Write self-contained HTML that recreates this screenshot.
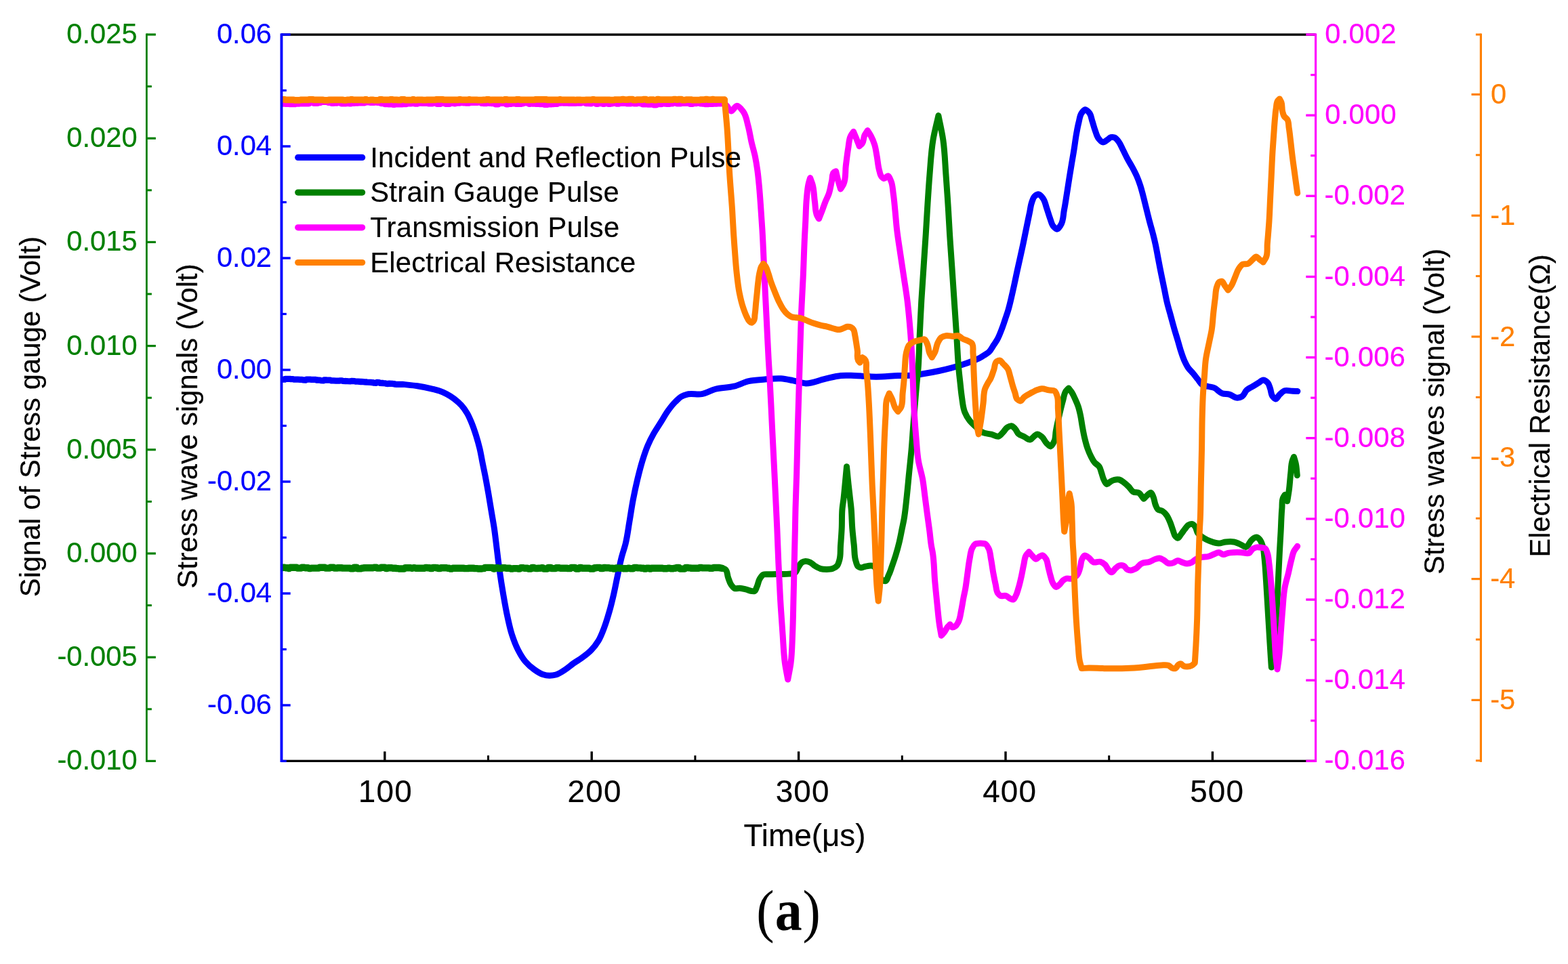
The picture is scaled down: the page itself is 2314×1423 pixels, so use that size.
<!DOCTYPE html>
<html lang="en">
<head>
<meta charset="utf-8">
<title>Stress wave signals and electrical resistance versus time</title>
<style>
html, body { margin: 0; padding: 0; background: #ffffff; }
body { width: 2314px; height: 1423px; overflow: hidden; }
svg { display: block; }
text { white-space: pre; stroke-width: 0.2px; stroke-linejoin: round; }
</style>
</head>
<body>
<svg width="2314" height="1423" viewBox="0 0 2314 1423" font-family="'Liberation Sans', Arial, Helvetica, sans-serif">
<rect x="0" y="0" width="2314" height="1423" fill="#fff"/>
<rect x="415.4" y="49.4" width="1526.2" height="3.4" fill="#000"/>
<rect x="415.4" y="1121.7" width="1526.2" height="3.3" fill="#000"/>
<rect x="566.1" y="1109.3" width="3.4" height="14" fill="#000"/>
<rect x="871.5" y="1109.3" width="3.4" height="14" fill="#000"/>
<rect x="1176.9" y="1109.3" width="3.4" height="14" fill="#000"/>
<rect x="1482.3" y="1109.3" width="3.4" height="14" fill="#000"/>
<rect x="1787.7" y="1109.3" width="3.4" height="14" fill="#000"/>
<rect x="719" y="1115.2" width="3" height="8" fill="#000"/>
<rect x="1024.4" y="1115.2" width="3" height="8" fill="#000"/>
<rect x="1329.8" y="1115.2" width="3" height="8" fill="#000"/>
<rect x="1635.2" y="1115.2" width="3" height="8" fill="#000"/>
<clipPath id="plotclip"><rect x="414" y="51" width="1527" height="1072"/></clipPath>
<g clip-path="url(#plotclip)">
<path d="M415 559.6 L416 560.1 L420 560.2 L421 559.3 L424.6 559.3 L425.6 559.4 L427.9 559.4 L428.9 559.5 L432.5 559.6 L433.5 560.1 L438.6 560.2 L439.6 560.2 L443.1 560.3 L444.1 560.4 L446 560.4 L447 560.9 L451.2 561 L452.2 560.1 L458.1 560.2 L459.1 560.3 L463.5 560.4 L464.5 560.4 L466 560.4 L467 561 L468.8 561 L469.8 561.1 L472.2 561.2 L473.2 561.7 L477.4 561.9 L478.4 560.9 L481.4 561 L482.4 561.1 L487.6 561.2 L488.6 561.8 L491.2 561.9 L492.2 561.9 L495.9 562.1 L496.9 562.1 L500.5 562.2 L501.5 561.8 L504.8 561.9 L505.8 562.4 L511.8 562.6 L512.8 562.7 L517.5 562.9 L518.5 562.4 L523.4 562.6 L524.4 563.1 L527.2 563.2 L528.2 563.2 L532.2 563.5 L533.2 563.5 L536.5 563.7 L537.5 563.8 L540.8 564 L541.8 564.1 L547.1 564.4 L548.1 564.5 L550.6 564.6 L551.6 565.2 L555.2 565.4 L556.2 564.5 L559.6 564.7 L560.6 565.3 L564.9 565.5 L565.9 565.6 L568.9 565.8 L569.9 566.3 L572.9 566.5 L573.9 566.1 L578.8 566.4 L579.8 566.5 L581.9 566.6 L582.9 567.2 L584.5 567.3 L594.5 567.4" fill="none" stroke="#0000ff" stroke-width="9.3" stroke-linejoin="round" stroke-linecap="round"/>
<path d="M594.5 567.4C601.67 568.2 608.88 568.7 616 569.8C623.28 570.92 630.55 572.31 637.7 574.1C641.32 575.01 644.98 575.87 648.5 577.1C652.19 578.38 655.84 579.89 659.3 581.7C663.07 583.67 666.7 586.04 670.1 588.6C673.95 591.5 677.68 594.72 680.9 598.3C684.16 601.92 687.03 606 689.5 610.2C692.1 614.61 694.03 619.45 696 624.2C698.49 630.2 700.54 636.4 702.5 642.6C704.52 649 706.34 655.48 707.9 662C709.62 669.17 710.75 676.47 712.2 683.7C713.65 690.9 715.21 698.09 716.6 705.3C718.12 713.18 719.53 721.09 720.9 729C722.4 737.65 723.76 746.33 725.2 755C726.63 763.63 728.23 772.24 729.5 780.9C730.77 789.58 731.7 798.3 732.8 807C734.27 818.7 735.56 830.42 737.2 842.1C738.83 853.66 740.62 865.2 742.6 876.7C744.59 888.26 746.54 899.85 749.1 911.3C751.04 919.98 752.83 928.76 755.6 937.2C758.01 944.55 760.67 951.93 764.2 958.8C767.29 964.82 770.64 970.96 775 976.1C778.77 980.54 783.26 984.59 788 988C792.04 990.9 796.31 993.96 801 995.5C804.08 996.51 807.45 997.22 810.7 997.3C813.92 997.38 817.31 996.88 820.4 996C825.06 994.68 829.26 991.63 833.4 989C837.93 986.12 841.9 982.4 846.3 979.3C850.54 976.31 855.13 973.78 859.3 970.7C863.82 967.36 868.41 963.93 872.3 959.9C876.39 955.67 880.05 950.82 883.1 945.8C886.75 939.8 889.16 932.99 891.7 926.4C894.69 918.64 897.01 910.6 899.3 902.6C901.75 894.05 903.81 885.37 905.8 876.7C907.77 868.11 909.37 859.43 911.2 850.8C913.19 841.42 914.9 831.97 917.3 822.7C919.1 815.75 921.6 808.97 923.3 802C925.85 791.53 927.08 780.74 928.9 770.1C930.75 759.31 932.24 748.45 934.3 737.7C936.24 727.56 938.38 717.44 940.8 707.4C943.07 697.98 945.4 688.54 948.3 679.3C950.58 672.02 952.9 664.7 955.9 657.7C958.43 651.79 961.36 646.01 964.5 640.4C967.8 634.5 971.71 628.94 975.3 623.2C978.91 617.44 982.09 611.37 986.1 605.9C989.42 601.36 992.9 596.84 996.9 592.9C999.62 590.22 1002.33 587.27 1005.6 585.4C1008.23 583.9 1011.27 582.89 1014.2 582.1C1021.07 580.25 1028.83 583.04 1035.8 581.7C1042.51 580.41 1048.65 576.33 1055.3 574.5C1064.39 572 1074.26 572.56 1083.4 570.2C1090.75 568.3 1097.62 564.38 1105 562.7C1112.7 560.95 1120.78 560.75 1128.7 560.1C1136.62 559.45 1144.62 558.25 1152.5 558.8C1158.29 559.2 1164.06 560.51 1169.8 561.6C1176.3 562.83 1182.74 565.66 1189.2 565.9C1198.58 566.25 1207.91 561.44 1217.3 559.4C1225.21 557.68 1233.07 555.23 1241.1 554.5C1247.51 553.92 1254.04 554.37 1260.5 554.5C1271.34 554.71 1282.17 556.2 1293 556.2C1303.8 556.2 1314.59 554.92 1325.4 554.5C1333.6 554.18 1341.86 554.75 1350 553.8C1353.28 553.42 1356.54 552.83 1359.8 552.3C1368.47 550.9 1377.12 549.35 1385.7 547.5C1391.49 546.25 1397.27 544.92 1403 543.4C1408.81 541.86 1414.59 540.18 1420.3 538.3C1424.84 536.81 1429.35 535.23 1433.8 533.5C1437.88 531.91 1442.06 530.47 1445.9 528.4C1448.34 527.08 1450.67 525.53 1453 524C1455.2 522.55 1457.6 521.26 1459.5 519.5C1462.48 516.74 1464.23 512.74 1466.5 509.3C1468.27 506.62 1470.13 503.99 1471.7 501.2C1474.7 495.88 1476.73 490.02 1478.9 484.3C1480.57 479.92 1481.99 475.44 1483.5 471C1484.85 467.01 1486.27 463.03 1487.5 459C1490.04 450.69 1491.83 442.16 1493.8 433.7C1495.09 428.15 1496.29 422.57 1497.5 417C1498.73 411.34 1499.87 405.66 1501.1 400C1502.69 392.66 1504.39 385.34 1506 378C1507.52 371.1 1509.05 364.21 1510.5 357.3C1511.98 350.24 1513.35 343.16 1514.8 336.1C1516.34 328.6 1517.9 321.09 1519.5 313.6C1520.61 308.4 1520.99 302.93 1522.9 298C1524.05 295.03 1524.87 291.37 1527.2 289.4C1528.61 288.21 1530.78 286.83 1532.4 286.8C1534.97 286.75 1537.47 290.54 1539.3 292.9C1542.23 296.67 1542.86 302.07 1544.5 306.7C1546.32 311.86 1547.64 317.2 1549.6 322.3C1551.17 326.4 1551.85 331.34 1554.8 334.4C1556.24 335.9 1558.39 338.23 1560 338.2C1561.91 338.16 1563.76 334.62 1565.2 332.6C1569.55 326.52 1568.89 317.71 1570.4 310.2C1572.13 301.59 1573.31 292.87 1574.7 284.2C1575.9 276.71 1577 269.19 1578.2 261.7C1579.31 254.8 1580.45 247.9 1581.6 241C1582.75 234.1 1583.99 227.21 1585.1 220.3C1586.3 212.81 1587.16 205.26 1588.5 197.8C1589.54 192.01 1590.51 186.18 1592 180.5C1593.22 175.84 1593.48 170.43 1596.3 166.7C1597.69 164.85 1599.71 161.94 1601.5 161.8C1603.46 161.64 1606.01 164.75 1607.6 166.7C1610.22 169.89 1610.54 174.74 1611.9 178.8C1613.43 183.37 1614.52 188.09 1616.2 192.6C1617.73 196.71 1618.68 201.39 1621.4 204.7C1623.04 206.7 1625.22 209.65 1627.4 209.9C1629.53 210.14 1632.12 207.76 1634.3 206.4C1636.12 205.27 1637.54 203.08 1639.5 202.6C1641.09 202.21 1643.15 202.46 1644.7 203C1647.24 203.89 1649.05 206.79 1650.8 209C1653.42 212.3 1654.84 216.51 1656.8 220.3C1659.16 224.87 1661.27 229.57 1663.7 234.1C1665.89 238.19 1668.39 242.12 1670.6 246.2C1673.05 250.74 1675.53 255.28 1677.6 260C1679.57 264.49 1681.27 269.13 1682.8 273.8C1684.48 278.92 1685.73 284.18 1687.1 289.4C1688.61 295.15 1689.96 300.93 1691.4 306.7C1693.12 313.6 1694.79 320.52 1696.6 327.4C1698.27 333.75 1700.19 340.04 1701.8 346.4C1703 351.15 1704.15 355.92 1705.2 360.7C1706.84 368.16 1708.05 375.7 1709.5 383.2C1710.95 390.7 1712.39 398.21 1713.9 405.7C1715.29 412.61 1716.77 419.5 1718.2 426.4C1719.64 433.33 1720.84 440.32 1722.5 447.2C1724.04 453.58 1725.97 459.87 1727.7 466.2C1729.43 472.53 1731.08 478.89 1732.9 485.2C1734.56 490.99 1736.38 496.73 1738.1 502.5C1739.82 508.26 1741.27 514.11 1743.2 519.8C1744.78 524.45 1746.31 529.17 1748.4 533.6C1749.94 536.86 1751.53 540.17 1753.6 543.1C1755.59 545.92 1758.26 548.25 1760.5 550.9C1762.87 553.71 1765.1 556.63 1767.4 559.5C1769.73 562.4 1771.36 566.38 1774.4 568.2C1776.82 569.65 1780.12 569.8 1783 570.5C1785.85 571.2 1788.9 571.38 1791.6 572.4C1796.1 574.1 1799.19 579.17 1803.7 580.7C1806.92 581.8 1810.75 581.23 1814.1 582.1C1818.31 583.19 1822.07 587.55 1826.2 587.3C1828.47 587.17 1831.14 586.3 1833.1 585.1C1836.28 583.16 1837.13 578.14 1840 575.6C1842.48 573.4 1845.8 572.14 1848.7 570.4C1851.57 568.67 1854.45 566.95 1857.3 565.2C1859.61 563.78 1861.9 560.9 1864.2 560.9C1866.5 560.9 1869.4 563.26 1871.1 565.2C1873.05 567.41 1873.55 570.89 1874.6 573.8C1875.93 577.5 1875.66 582.11 1878 585.1C1879.17 586.59 1880.99 588.79 1882.4 589C1884.52 589.31 1886.26 584.51 1888.4 582.5C1890.55 580.48 1892.72 577.94 1895.3 576.9C1898.81 575.49 1903.37 577.15 1907.4 577.3C1909.9 577.39 1912.4 577.5 1914.9 577.6" fill="none" stroke="#0000ff" stroke-width="9" stroke-linejoin="round" stroke-linecap="round"/>
<path d="M415 838.6 L416 837.8 L420.5 837.8 L421.5 838.2 L424.5 838.2 L425.5 839 L427.1 839 L428.1 837.8 L431.8 837.8 L432.8 837.8 L437.9 837.8 L438.9 838.6 L444.3 838.6 L445.3 837.8 L449.3 837.8 L450.3 838.2 L454.6 838.2 L455.6 839 L458.8 839 L459.8 838.6 L465.3 838.6 L466.3 838.6 L470.4 838.6 L471.4 837.8 L473.3 837.8 L474.3 837.8 L479.5 837.8 L480.5 838.6 L483.8 838.6 L484.8 838.6 L486.4 838.6 L487.4 837.8 L492.5 837.8 L493.5 838.6 L497.3 838.6 L498.3 838.2 L504.3 838.2 L505.3 838.6 L511.1 838.6 L512.1 838.6 L516.5 838.6 L517.5 839.4 L521.5 839.4 L522.5 837.8 L526.5 837.8 L527.5 839.4 L533 839.4 L534 838.6 L536.2 838.6 L537.2 838.2 L540.5 838.2 L541.5 838.2 L546 838.2 L547 838.2 L550.7 838.2 L551.7 837.8 L555.6 837.8 L556.6 838.6 L561.4 838.6 L562.4 837.8 L568.3 837.8 L569.3 839 L571.9 839 L572.9 838.2 L578.3 838.3 L579.3 838.7 L583.9 838.7 L584.9 839.1 L587.5 839.1 L588.5 839.5 L591.7 839.5 L592.7 839.5 L596.7 839.5 L597.7 838.3 L600 838.3 L601 838.3 L606.2 838.3 L607.2 838.7 L608.9 838.7 L609.9 838.3 L612.4 838.3 L613.4 838.7 L615.1 838.7 L616.1 838.7 L621.1 838.7 L622.1 838.7 L626.9 838.7 L627.9 837.9 L630.2 837.9 L631.2 838.3 L634 838.3 L635 839.1 L637.7 839.1 L638.7 837.9 L642.9 837.9 L643.9 838.3 L645.7 838.3 L646.7 839.1 L649.8 839.1 L650.8 838.3 L653.6 838.3 L654.6 838.3 L659.2 838.3 L660.2 838.7 L662.8 838.7 L663.8 839.5 L667.4 839.5 L668.4 838.7 L671.5 838.7 L672.5 838.7 L677.5 838.7 L678.5 838.7 L684.1 838.7 L685.1 839.1 L690.9 839.1 L691.9 838.7 L694.2 838.7 L695.2 838.7 L698.9 838.7 L699.9 839.1 L704.2 839.1 L705.2 839.5 L711.2 839.5 L712.2 839.1 L714.4 839.1 L715.4 837.9 L720.9 837.9 L721.9 837.9 L727.1 837.9 L728.1 839.5 L730.1 839.5 L731.1 838.3 L734.9 838.3 L735.9 839.1 L740.2 839.1 L741.2 838.3 L745.8 838.3 L746.8 838.7 L752.3 838.7 L753.3 839.5 L756.8 839.5 L757.8 839.1 L763.3 839.1 L764.3 839.5 L767.3 839.5 L768.3 838.3 L772.6 838.3 L773.6 838.7 L778.3 838.7 L779.3 839.5 L784.1 839.5 L785.1 837.9 L787.8 837.9 L788.8 838.7 L790.3 838.7 L791.3 839.1 L793.4 839.1 L794.4 838.7 L797.8 838.7 L798.8 838.3 L801.2 838.3 L802.2 839.5 L808.1 839.5 L809.1 837.9 L813.1 837.9 L814.1 839.1 L819.8 839.1 L820.8 838.3 L825.7 838.3 L826.7 838.7 L830.1 838.7 L831.1 838.7 L836.7 838.7 L837.7 839.1 L841.8 839.1 L842.8 837.9 L848.7 837.9 L849.7 839.5 L854.5 839.5 L855.5 837.9 L857.8 837.9 L858.8 838.7 L863.4 838.7 L864.4 838.7 L869.5 838.7 L870.5 839.5 L876.1 839.5 L877.1 838.3 L879.5 838.3 L880.5 837.9 L885.6 837.9 L886.6 839.1 L889.7 839.1 L890.7 837.9 L893.4 837.9 L894.4 838.3 L899 838.3 L900 838.7 L904.3 838.8 L905.3 839.6 L907.7 839.6 L908.7 838.4 L913.4 838.4 L914.4 838.8 L918.5 838.8 L919.5 839.2 L922.8 839.2 L923.8 839.2 L925.7 839.2 L926.7 838.8 L928.9 838.8 L929.9 839.2 L934.6 839.2 L935.6 838 L940.2 838 L941.2 838.4 L945.7 838.4 L946.7 838.8 L949.8 838.8 L950.8 839.6 L953.3 839.6 L954.3 838.8 L957.8 838.8 L958.8 839.6 L960.5 839.6 L961.5 838.8 L964.6 838.8 L965.6 838.8 L971 838.8 L972 838.8 L977.8 838.8 L978.8 839.2 L984.6 839.2 L985.6 838.8 L988.4 838.8 L989.4 839.2 L994 839.2 L995 838.8 L997.5 838.8 L998.5 838 L1002.2 838 L1003.2 839.6 L1006.2 839.6 L1007.2 839.6 L1010.8 839.6 L1011.8 838 L1015.6 838 L1016.6 838.4 L1019.2 838.4 L1020.2 838.8 L1025.2 838.8 L1026.2 838.8 L1031.5 838.8 L1032.5 838 L1035.8 838 L1036.8 838.4 L1041.7 838.4 L1042.7 838.4 L1046.6 838.4 L1047.6 838.8 L1052.1 838.8 L1053.1 838 L1057.1 838 L1058.1 838 L1061 838 L1065.9 838.8" fill="none" stroke="#008000" stroke-width="10.4" stroke-linejoin="round" stroke-linecap="round"/>
<path d="M1065.9 838.8C1067.37 839.37 1069.09 839.69 1070.3 840.5C1073.61 842.71 1073.06 848.61 1074.6 852.6C1075.95 856.1 1076.78 859.98 1078.9 863C1080.32 865.03 1081.98 867.62 1084.1 868.5C1086.29 869.41 1089.32 868.02 1091.9 868.2C1094.79 868.41 1097.67 869.2 1100.5 869.9C1103.4 870.62 1106.15 872.22 1109.1 872.5C1110.55 872.64 1112.32 873 1113.5 872.5C1115.37 871.71 1115.89 868.49 1116.9 866.4C1118.77 862.55 1119.02 857.86 1121.3 854.3C1122.7 852.12 1124.26 849.42 1126.4 848.3C1128.76 847.06 1132.2 847.94 1135.1 847.8C1139.13 847.61 1143.17 847.51 1147.2 847.4C1152.97 847.25 1158.78 847.75 1164.5 847.1C1167.38 846.77 1170.87 847.1 1173.1 845.7C1175.69 844.07 1176.4 839.79 1178.3 837C1179.92 834.62 1181.15 831.54 1183.5 830.1C1184.99 829.19 1186.95 828.53 1188.7 828.4C1190.97 828.23 1193.48 829.15 1195.6 830.1C1198.17 831.26 1200.07 833.78 1202.5 835.3C1205.2 836.99 1208.07 838.74 1211.1 839.6C1213.86 840.38 1216.9 840.5 1219.8 840.5C1222.67 840.5 1225.75 840.53 1228.4 839.6C1230.89 838.72 1233.6 837.24 1235.3 835.3C1237.25 833.09 1237.91 829.63 1238.8 826.7C1240.79 820.11 1239.98 812.84 1240.5 805.9C1241.14 797.27 1241.78 788.64 1242.2 780C1242.69 770.08 1242.11 760.08 1243.1 750.2C1243.57 745.45 1244.44 740.74 1245 736C1245.81 729.22 1246.35 722.4 1247 715.6C1247.86 706.67 1248.67 697.73 1249.5 688.8C1250.4 697.73 1251.24 706.67 1252.2 715.6C1252.93 722.4 1253.73 729.2 1254.5 736C1255.03 740.73 1255.65 745.46 1256.1 750.2C1257.04 760.1 1257.01 770.08 1257.8 780C1258.49 788.65 1259.46 797.27 1260.4 805.9C1261.21 813.41 1260.57 821.32 1263 828.4C1263.91 831.06 1264.29 834.53 1266.4 836.2C1267.36 836.96 1268.7 837.64 1269.9 837.9C1272.09 838.37 1274.48 836.59 1276.8 836.2C1280.76 835.53 1285.67 834.15 1288.9 835.7C1292.02 837.2 1293.87 841.74 1296 845C1298.28 848.49 1298.65 853.81 1302 856C1303.22 856.8 1304.99 857.79 1306.2 857.8C1308.88 857.82 1309.89 852.11 1311.4 849.1C1313.6 844.73 1314.95 839.93 1316.6 835.3C1318.43 830.17 1320.2 825.01 1321.8 819.8C1323.73 813.49 1325.46 807.11 1327 800.7C1328.65 793.85 1329.87 786.9 1331.3 780C1332.17 775.8 1333.12 771.62 1333.9 767.4C1336 756.01 1336.92 744.42 1338.2 732.9C1339.48 721.38 1340.45 709.83 1341.6 698.3C1342.75 686.77 1344.08 675.25 1345.1 663.7C1346.12 652.18 1346.8 640.63 1347.7 629.1C1348.6 617.6 1349.55 606.1 1350.5 594.6C1351.32 584.73 1352.06 574.86 1353 565C1353.56 559.13 1354.28 553.27 1354.8 547.4C1356.31 530.19 1356.37 512.87 1357.2 495.6C1358.03 478.3 1358.8 460.99 1359.8 443.7C1360.8 426.43 1362.06 409.17 1363.2 391.9C1364.23 376.27 1365.32 360.64 1366.3 345C1367.03 333.34 1367.66 321.66 1368.4 310C1369.49 292.76 1370.47 275.51 1371.9 258.3C1373.34 240.98 1374.1 223.51 1377 206.4C1379.04 194.37 1382.27 182.53 1384.9 170.6C1387.2 182.53 1390.04 194.39 1391.8 206.4C1394.31 223.55 1394.71 240.99 1396 258.3C1397.28 275.52 1398.44 292.76 1399.5 310C1400.22 321.66 1400.78 333.34 1401.5 345C1402.47 360.64 1403.64 376.27 1404.7 391.9C1405.87 409.17 1407.03 426.43 1408.2 443.7C1409.37 461 1410.55 478.3 1411.7 495.6C1412.85 512.87 1413.43 530.18 1415.1 547.4C1415.67 553.27 1416.35 559.14 1417 565C1417.77 571.97 1418.34 578.97 1419.4 585.9C1420.56 593.45 1420.89 601.44 1423.8 608.4C1425.57 612.63 1427.89 616.85 1430.7 620.5C1433.1 623.61 1436.09 626.32 1439 629C1442.79 632.5 1446.49 636.68 1451.1 638.7C1454.77 640.31 1459.21 640.2 1463.2 641.2C1466.7 642.07 1470.57 645.05 1473.6 644.2C1476.23 643.46 1478.31 640.04 1480.5 637.8C1482.64 635.61 1484.06 632.44 1486.6 630.9C1488.36 629.84 1490.74 628.53 1492.6 628.8C1494.48 629.07 1496.29 631.12 1497.8 632.6C1500 634.75 1500.74 638.39 1503 640.4C1505.32 642.46 1508.73 643.27 1511.6 644.7C1514.5 646.14 1517.65 649.65 1520.3 649C1522.12 648.55 1523.65 646.07 1525.4 644.7C1527.09 643.38 1528.8 641.13 1530.6 640.9C1532.8 640.62 1535.5 643.09 1537.5 644.7C1540.5 647.11 1541.7 651.48 1544.5 654.2C1546.31 655.95 1548.74 659 1550.5 658.9C1552.57 658.78 1554.42 654.22 1555.7 651.6C1557.95 647.01 1557.34 641.25 1558.3 636.1C1559.81 627.99 1561.62 619.93 1563.5 611.9C1565.13 604.94 1566.73 597.97 1568.7 591.1C1570.03 586.47 1570.25 581.14 1573 577.3C1574.12 575.74 1575.67 574.43 1577 573C1578.53 575 1580.23 576.9 1581.6 579C1583.71 582.23 1585.19 585.87 1586.8 589.4C1588.35 592.81 1589.89 596.26 1591.1 599.8C1592.63 604.28 1593.61 608.96 1594.6 613.6C1595.69 618.72 1596.27 623.95 1597.2 629.1C1598.25 634.88 1599.23 640.69 1600.6 646.4C1601.86 651.65 1603.17 656.93 1605 662C1606.49 666.12 1608.18 670.21 1610.2 674.1C1611.73 677.05 1613.19 680.18 1615.3 682.7C1617.25 685.02 1620.49 686.36 1622.2 688.8C1624.08 691.48 1624.58 695.12 1625.7 698.3C1626.92 701.75 1627.46 705.53 1629.2 708.7C1630.37 710.83 1631.78 714.42 1633.5 714.7C1635.22 714.98 1637.34 711.54 1639.5 710.4C1641.14 709.53 1642.91 708.72 1644.7 708.3C1646.91 707.78 1649.45 707.51 1651.6 708C1654.1 708.57 1656.33 710.55 1658.5 712.1C1661.01 713.89 1663.3 716.03 1665.5 718.2C1667.97 720.63 1669.5 724.45 1672.4 726C1674.84 727.31 1678.7 726.18 1681 727.7C1682.77 728.87 1683.91 731.13 1685.3 732.9C1686.18 734.02 1687.03 735.17 1687.9 736.3C1689.63 734.57 1691.24 732.68 1693.1 731.1C1694.73 729.72 1696.86 727.04 1698.3 727.3C1699.78 727.56 1700.83 730.95 1701.8 732.9C1703.65 736.62 1703.6 741.15 1705.2 745C1706.19 747.37 1706.9 750.31 1708.7 751.9C1710.42 753.41 1713.56 753.23 1715.6 754.5C1717.95 755.96 1719.91 758.28 1721.6 760.5C1723.92 763.55 1725.27 767.35 1726.8 770.9C1728.49 774.83 1729.56 779.01 1731.1 783C1732.21 785.89 1732.54 789.43 1734.6 791.6C1735.57 792.62 1737.01 794.04 1738.1 794.2C1740.06 794.49 1741.56 790.25 1743.2 788.2C1745 785.96 1746.6 783.54 1748.4 781.3C1750.07 779.22 1751.4 776.5 1753.6 775.2C1755.34 774.17 1757.94 773.02 1759.7 773.5C1761.39 773.96 1762.84 776.19 1764 777.8C1765.76 780.25 1765.74 783.91 1767.4 786.4C1769.48 789.52 1772.92 791.89 1776.1 794C1779.26 796.09 1782.84 797.69 1786.4 799C1790.28 800.42 1794.44 801.96 1798.5 802C1801.95 802.03 1805.4 800.36 1808.9 800C1812.89 799.59 1817.11 799.25 1821 800C1824.59 800.69 1828.02 802.46 1831.4 804C1833.74 805.07 1836.23 807.49 1838.3 807.5C1841.86 807.53 1843.6 800.26 1846.9 797.3C1848.29 796.05 1849.61 794.51 1851.3 793.8C1852.35 793.36 1853.65 792.88 1854.7 793C1856.34 793.19 1857.8 795.09 1859 796.4C1861.3 798.91 1862.3 802.63 1863.4 805.9C1865.24 811.37 1865.2 817.42 1865.9 823.2C1867.29 834.68 1867.71 846.26 1868.5 857.8C1869.49 872.19 1870.23 886.6 1871.1 901C1871.97 915.4 1872.81 929.8 1873.7 944.2C1874.54 957.8 1875.43 971.4 1876.3 985C1878.03 968.53 1880.06 952.09 1881.5 935.6C1882.51 924.08 1883.35 912.54 1884.1 901C1885.23 883.72 1885.84 866.4 1886.7 849.1C1887.27 837.6 1887.79 826.1 1888.4 814.6C1888.93 804.63 1889.55 794.67 1890.1 784.7C1890.73 773.2 1890.85 761.66 1891.9 750.2C1892.37 744.99 1891.41 739.25 1893.6 734.6C1894.3 733.11 1895.33 731.73 1896.2 730.3L1899.7 739.8C1900.53 734.6 1901.48 729.42 1902.2 724.2C1903.38 715.61 1903.76 706.91 1904.8 698.3C1905.57 691.96 1905.24 685.28 1907.4 679.3C1908 677.64 1908.8 676.03 1909.5 674.4C1910.43 677.77 1911.57 681.09 1912.3 684.5C1913.51 690.13 1913.63 695.97 1914.3 701.7" fill="none" stroke="#008000" stroke-width="9" stroke-linejoin="round" stroke-linecap="round"/>
<path d="M415 151.5 L416 152.6 L420.6 152.6 L421.6 152.9 L426 152.9 L427 153.1 L432.4 153.1 L433.4 153.1 L435.5 153.1 L436.5 152.6 L441.4 152.6 L442.4 152.3 L445.8 152.3 L446.8 152.5 L452.8 152.5 L453.8 152.5 L455.7 152.5 L456.7 150.7 L461.9 150.8 L462.9 151.9 L468.6 151.9 L469.6 151.1 L472.8 151.1 L473.8 150 L477.4 150 L478.4 150 L483 150 L484 150.8 L488.3 150.8 L489.3 151.9 L492.4 151.9 L493.4 151.6 L498 151.6 L499 150.8 L502.5 150.8 L503.5 152.4 L507.4 152.4 L508.4 152.5 L510.8 152.5 L511.8 151 L514.4 151 L515.4 152.5 L518.1 152.5 L519.1 151.9 L522.4 151.9 L523.4 151.7 L527.5 151.7 L528.5 151.5 L532.5 151.5 L533.5 151.4 L538.2 151.4 L539.2 150.3 L541 150.3 L542 150.3 L545.3 150.3 L546.3 150.9 L552 150.9 L553 150.6 L555.5 150.6 L556.5 150.8 L561.6 150.8 L562.6 152.2 L567 152.2 L568 153.1 L572.8 153.1 L573.8 153.5 L579.3 153.5 L580.3 153.8 L582.7 153.8 L583.7 153.3 L587.5 153.3 L588.5 153.3 L594.1 153.3 L595.1 153.1 L599.9 153.1 L600.9 152.5 L606.2 152.5 L607.2 152.1 L611.3 152.1 L612.3 152.7 L615.5 152.7 L616.5 152 L618.8 152 L619.8 151.5 L622 151.5 L623 151.9 L628.6 151.9 L629.6 151.5 L631.4 151.5 L632.4 152.4 L638.3 152.4 L639.3 151.7 L643.7 151.7 L644.7 152.8 L646.7 152.8 L647.7 152.9 L649.8 152.9 L650.8 152 L656.4 152 L657.4 153 L663.1 153 L664.1 151.9 L669.4 151.9 L670.4 152.5 L671.9 152.5 L672.9 150.9 L675.1 150.9 L676.1 151.7 L678.6 151.7 L679.6 151.1 L682.5 151.1 L683.5 151.3 L686.7 151.3 L687.7 151.6 L692.5 151.6 L693.5 151 L696.9 151 L697.9 151 L700.6 151 L701.6 151 L704.7 151 L705.7 150.2 L709.8 150.2 L710.8 152 L713.2 152 L714.2 152.2 L717.7 152.2 L718.7 151.7 L721.9 151.7 L722.9 152 L724.8 152 L725.8 152.1 L730 152.1 L731 153.3 L735.4 153.3 L736.4 152 L738.8 152 L739.8 152 L745.7 152 L746.7 153.4 L749.7 153.4 L750.7 152.8 L754.6 152.8 L755.6 152.2 L757.8 152.2 L758.8 152.5 L760.8 152.5 L761.8 152.9 L764.2 152.9 L765.2 152.8 L769.5 152.8 L770.5 152.3 L772.1 152.3 L773.1 151.3 L775.1 151.3 L776.1 151.3 L779.5 151.3 L780.5 152.9 L782.2 152.9 L783.2 152.1 L785.3 152.1 L786.3 152.6 L789.3 152.6 L790.3 152.8 L795.8 152.8 L796.8 153.1 L802.4 153.1 L803.4 153.8 L805.3 153.8 L806.3 153.8 L808.2 153.8 L809.2 153.3 L814.3 153.3 L815.3 153.1 L817 153.1 L818 153 L822.5 153 L823.5 151.7 L827.3 151.7 L828.3 151.3 L830.7 151.3 L831.7 151.7 L836 151.7 L837 151.7 L839 151.7 L840 152 L845.7 152 L846.7 151.8 L850.6 151.8 L851.6 151.7 L853.8 151.7 L854.8 151.7 L857.5 151.7 L858.5 150.9 L860.2 150.9 L861.2 151 L863.5 151 L864.5 152.1 L866.5 152.1 L867.5 152.2 L872.9 152.3 L873.9 151.1 L879 151.1 L880 152.9 L882.2 152.9 L883.2 152.1 L888.9 152.1 L889.9 153 L891.8 153 L892.8 151.5 L896.2 151.5 L897.2 152.9 L900.8 152.9 L901.8 152.3 L904 152.3 L905 151.8 L908.5 151.8 L909.5 152.6 L913.4 152.6 L914.4 152 L917.1 152 L918.1 151.9 L923.8 151.9 L924.8 152.5 L930.6 152.5 L931.6 151.3 L935 151.3 L936 152.5 L939.3 152.5 L940.3 151.8 L943.9 151.8 L944.9 152.1 L947.3 152.1 L948.3 153.4 L953 153.4 L954 153.2 L955.6 153.2 L956.6 153.7 L960.3 153.7 L961.3 153.4 L963.4 153.4 L964.4 154.3 L968.5 154.3 L969.5 152.6 L971.4 152.6 L972.4 153.1 L976.4 153.1 L977.4 152.2 L979.9 152.2 L980.9 152.6 L982.5 152.6 L983.5 152.8 L988.5 152.8 L989.5 152.4 L992.4 152.4 L993.4 151.2 L997.8 151.2 L998.8 152.5 L1004.5 152.5 L1005.5 151.6 L1008 151.6 L1009 152 L1013.2 152 L1014.2 151.7 L1017.1 151.8 L1018.1 152.8 L1022.2 152.8 L1023.2 152.1 L1027.6 152.1 L1028.6 151.6 L1032.5 151.6 L1033.5 152.3 L1036.1 152.3 L1037.1 152.7 L1039 152.7 L1040 153.1 L1045.7 153.1 L1046.7 152.9 L1052 152.9 L1053 152.6 L1057.7 152.6 L1058.7 152.3 L1062.9 152.3 L1067 152.2" fill="none" stroke="#ff00ff" stroke-width="10.2" stroke-linejoin="round" stroke-linecap="round"/>
<path d="M1067 152.2C1068.67 153.3 1070.48 154.24 1072 155.5C1074.78 157.8 1076.4 163.73 1078.9 164C1081.54 164.28 1084.65 156.43 1087.5 156.3C1090.68 156.16 1094.5 161.67 1097 165C1101.24 170.65 1102.06 178.69 1104 185.7C1106.21 193.66 1107.22 201.94 1109.1 210C1110.7 216.9 1112.85 223.67 1114.3 230.6C1115.74 237.48 1116.83 244.44 1117.8 251.4C1118.92 259.43 1119.64 267.52 1120.4 275.6C1121.48 287.05 1122.19 298.53 1123 310C1123.71 320 1124.39 330 1125 340C1126.39 363.01 1127.1 386.07 1128.2 409.1C1129.3 432.17 1130.45 455.23 1131.6 478.3C1132.46 495.6 1133.22 512.91 1134.2 530.2C1134.76 540.14 1135.43 550.06 1136 560C1137.31 583.02 1138.25 606.07 1139.4 629.1C1140.55 652.17 1141.77 675.23 1142.9 698.3C1143.75 715.6 1144.58 732.9 1145.4 750.2C1145.87 760.13 1146.36 770.07 1146.8 780C1147.57 797.3 1148.12 814.6 1148.9 831.9C1149.68 849.17 1150.49 866.44 1151.5 883.7C1152.52 901.01 1153.73 918.31 1155 935.6C1156.06 950.01 1156.38 964.51 1158.4 978.8C1159.55 986.9 1161.27 994.93 1162.7 1003C1164.13 994.93 1165.91 986.91 1167 978.8C1168.92 964.53 1168.95 950.01 1169.6 935.6C1170.38 918.31 1170.57 901 1171 883.7C1171.43 866.43 1171.8 849.17 1172.2 831.9C1172.6 814.6 1173.03 797.3 1173.4 780C1173.61 770.07 1173.75 760.13 1174 750.2C1174.43 732.9 1175.19 715.6 1175.7 698.3C1176.38 675.2 1176.77 652.1 1177.4 629C1178.03 606 1178.81 583 1179.5 560C1179.97 544.3 1180.41 528.6 1180.9 512.9C1181.44 495.6 1181.88 478.29 1182.6 461C1183.32 443.66 1184.42 426.34 1185.2 409C1186.08 389.34 1186.53 369.66 1187.5 350C1187.87 342.47 1188.31 334.93 1188.7 327.4C1189.29 315.9 1189.3 304.35 1190.4 292.9C1191.07 285.92 1191.45 278.83 1193 272C1193.72 268.84 1194.73 265.73 1195.6 262.6C1196.73 265.73 1198.06 268.82 1199 272C1201.48 280.35 1201.18 289.36 1202.5 298C1203.56 304.95 1202.86 312.59 1206 318.8C1206.73 320.24 1207.67 321.6 1208.5 323C1209.97 319.3 1211.48 315.62 1212.9 311.9C1214.67 307.29 1216.16 302.58 1218 298C1219.62 293.96 1221.77 290.1 1223.2 286C1225.34 279.89 1226.03 273.31 1227.6 267C1228.68 262.65 1227.45 256.31 1231 254C1231.76 253.51 1232.73 253.2 1233.6 252.8C1234.73 257.53 1235.74 262.3 1237 267C1238.08 271.02 1239.33 275 1240.5 279C1241.93 276.67 1243.62 274.42 1244.8 272C1248.8 263.83 1247.1 253.66 1248.3 244.5C1249.44 235.83 1250.32 227.12 1251.8 218.5C1252.79 212.71 1252.72 206.43 1255.2 201.2C1256.35 198.79 1258.07 196.6 1259.5 194.3C1260.97 197.77 1262.49 201.21 1263.9 204.7C1265.4 208.41 1266.77 212.17 1268.2 215.9C1269.63 214.47 1271.35 213.2 1272.5 211.6C1274.88 208.28 1274.19 203.25 1276 199.5C1277.17 197.08 1278.87 194.9 1280.3 192.6C1282.03 195.47 1283.95 198.24 1285.5 201.2C1287.52 205.07 1289.25 209.16 1290.6 213.3C1292.41 218.87 1293.02 224.82 1294.1 230.6C1295.39 237.51 1295.62 244.68 1297.6 251.4C1298.55 254.62 1298.77 258.54 1301 260.9C1301.96 261.92 1303.31 263.26 1304.5 263.5C1306.44 263.89 1308.86 259.46 1310.5 259.7C1312.45 259.99 1313.65 264.46 1314.8 267C1317.43 272.79 1317.34 279.64 1318.3 286C1319.5 293.95 1320.09 301.99 1320.9 310C1321.84 319.33 1322.44 328.69 1323.5 338C1324.9 350.24 1326.91 362.41 1328.7 374.6C1330.39 386.11 1332.19 397.6 1333.9 409.1C1335.62 420.63 1337.56 432.13 1339 443.7C1340.43 455.2 1341.48 466.75 1342.5 478.3C1343.52 489.82 1344.4 501.36 1345.1 512.9C1345.85 525.26 1346.25 537.63 1346.8 550C1347.72 570.63 1348.09 591.29 1349.4 611.9C1350.13 623.41 1350.99 634.91 1352 646.4C1353.02 657.95 1353.51 669.6 1355.5 681C1357.02 689.71 1359.91 698.19 1361.5 706.9C1363.07 715.49 1363.85 724.23 1365 732.9C1366.15 741.53 1367.25 750.17 1368.4 758.8C1369.55 767.44 1370.79 776.06 1371.9 784.7C1372.81 791.79 1373.26 798.96 1374.5 806C1375.01 808.88 1375.69 811.73 1376.2 814.6C1378.73 828.81 1378.4 843.41 1379.7 857.8C1380.75 869.34 1381.88 880.88 1383.1 892.4C1384.2 902.77 1384.99 913.2 1386.6 923.5C1387.37 928.41 1388.33 933.3 1389.2 938.2C1390.93 936.17 1392.83 934.25 1394.4 932.1C1396 929.92 1396.98 927.28 1398.7 925.2C1399.73 923.95 1400.97 922.87 1402.1 921.7C1403.27 923.17 1404.13 925.83 1405.6 926.1C1406.82 926.32 1408.67 925.16 1409.9 924.3C1411.85 922.94 1413.01 920.41 1414.2 918.3C1417.08 913.19 1417.33 906.81 1418.6 901C1419.97 894.72 1420.76 888.31 1422 882C1422.79 877.99 1423.76 874.02 1424.5 870C1425.78 863.08 1426.5 856.07 1427.5 849.1C1428.66 841.03 1429.39 832.88 1431 824.9C1432.05 819.7 1432.22 814 1434.7 809.4C1435.86 807.24 1437.07 804.53 1439 803.3C1441.04 802 1444.2 802.1 1446.8 802.1C1449.4 802.1 1452.56 802 1454.6 803.3C1456.53 804.53 1457.75 807.24 1458.9 809.4C1461.35 814 1461.37 819.71 1462.4 824.9C1463.77 831.79 1464.53 838.79 1465.8 845.7C1466.87 851.48 1467.94 857.28 1469.3 863C1470.33 867.33 1470.1 872.44 1472.7 875.9C1473.66 877.18 1474.86 878.66 1476.2 879.4C1478.53 880.69 1482.21 878.52 1484.8 879.4C1487.04 880.17 1488.66 882.68 1490.9 883.7C1492.26 884.32 1494 885.36 1495.2 885.1C1496.77 884.76 1497.69 881.98 1498.7 880.3C1500.88 876.66 1501.73 872.28 1503 868.2C1504.76 862.53 1505.99 856.7 1507.3 850.9C1508.59 845.16 1509.5 839.34 1510.8 833.6C1511.85 828.98 1511.79 823.76 1514.2 819.8C1515.35 817.92 1517.07 816.33 1518.5 814.6C1520.23 816.6 1521.84 818.72 1523.7 820.6C1525.34 822.26 1527.09 825.27 1528.9 825.3C1530.57 825.33 1532.21 822.49 1534.1 821.5C1535.45 820.79 1537.1 819.73 1538.4 819.8C1540.45 819.91 1542.26 822.97 1543.6 824.9C1545.91 828.24 1545.92 832.95 1547 837C1548.23 841.62 1549.12 846.33 1550.5 850.9C1551.55 854.37 1552.13 858.16 1554 861.2C1555.16 863.09 1556.63 866.21 1558.3 866.4C1559.84 866.58 1561.94 864.33 1563.5 863C1565.52 861.29 1566.63 858.52 1568.7 856.9C1570.22 855.71 1571.98 854.49 1573.8 854C1575.97 853.42 1578.6 854.74 1580.8 854.3C1583.95 853.67 1587.22 851.4 1589.4 849.1C1592.6 845.72 1593.36 840.04 1594.6 835.3C1595.34 832.48 1595.19 829.35 1596.3 826.7C1597.3 824.32 1598.68 820.49 1600.6 820.1C1602.27 819.76 1604.83 821.94 1606.7 823.2C1609.31 824.96 1610.88 828.73 1613.6 829.8C1616.57 830.97 1620.83 828.34 1624 829.3C1626.48 830.05 1628.97 831.79 1630.9 833.6C1633.13 835.69 1633.91 839.22 1636.1 841.4C1637.38 842.68 1639.02 844.62 1640.4 844.8C1642.53 845.08 1644.24 840.61 1646.4 838.8C1648.04 837.42 1649.67 835.61 1651.6 835C1653.67 834.35 1656.54 834.45 1658.5 835.3C1660.64 836.23 1661.53 839.74 1663.7 840.8C1665.22 841.55 1667.19 841.92 1668.9 841.9C1671.24 841.87 1673.69 840.69 1675.8 839.6C1679.18 837.86 1681.17 833.62 1684.5 831.9C1688.05 830.07 1692.73 830.66 1696.6 829.3C1699.56 828.26 1702.19 826.2 1705.2 825.3C1707.17 824.71 1709.33 823.9 1711.3 824.1C1713.37 824.31 1715.39 825.67 1717.3 826.7C1719.75 828.03 1721.63 830.89 1724.2 831.5C1726.32 832 1728.91 831.57 1731.1 831C1733.58 830.35 1735.71 827.59 1738.1 827.5C1740.35 827.41 1742.66 829.36 1745 830.1C1747.26 830.82 1749.6 831.9 1751.9 831.9C1754.2 831.9 1756.68 831.08 1758.8 830.1C1761.37 828.92 1763.17 826.18 1765.7 824.9C1768.35 823.56 1771.45 822.97 1774.4 822.4C1777.22 821.86 1780.23 822.17 1783 821.5C1786.01 820.77 1788.79 819.13 1791.7 818C1793.99 817.11 1796.33 815.33 1798.6 815.4C1800.9 815.47 1803.08 818.36 1805.4 818.5C1807.68 818.63 1810.02 816.81 1812.4 816.3C1815.2 815.69 1818.13 815.56 1821 815.4C1824.46 815.2 1827.94 815.28 1831.4 815.4C1835.44 815.54 1840.3 818.03 1843.5 816.3C1845.59 815.17 1846.57 811.77 1848.7 810.3C1850.2 809.27 1852.04 808.43 1853.8 808C1856.55 807.34 1859.64 808.05 1862.5 808.5C1863.94 808.73 1865.65 808.74 1866.8 809.4C1868.83 810.57 1869.38 813.92 1870.3 816.3C1872.19 821.17 1872.16 826.68 1872.9 831.9C1874.11 840.49 1874.74 849.16 1875.5 857.8C1876.52 869.32 1877.23 880.86 1878 892.4C1878.96 906.79 1879.68 921.2 1880.6 935.6C1881.33 947.1 1881.75 958.63 1882.9 970.1C1883.5 976.08 1884.3 982.03 1885 988C1885.83 982.03 1886.8 976.08 1887.5 970.1C1888.85 958.65 1889.23 947.1 1890.1 935.6C1890.97 924.07 1891.68 912.52 1892.7 901C1893.72 889.45 1894.01 877.75 1896.2 866.4C1897.55 859.43 1899.75 852.62 1901.4 845.7C1902.9 839.38 1903.99 832.96 1905.7 826.7C1906.98 822.03 1907.66 816.98 1910 812.8C1911.29 810.5 1913.13 808.47 1914.7 806.3" fill="none" stroke="#ff00ff" stroke-width="9" stroke-linejoin="round" stroke-linecap="round"/>
<path d="M415 147.4 L416 146.9 L420.7 146.9 L421.7 147.4 L427.4 147.4 L428.4 147.4 L433.2 147.4 L434.2 147.8 L439 147.8 L440 147.8 L442.9 147.8 L443.9 147.4 L447.1 147.4 L448.1 147.4 L450.8 147.4 L451.8 147.4 L454.9 147.4 L455.9 146.9 L459.1 146.9 L460.1 146.9 L462.2 146.9 L463.2 147.4 L467.7 147.4 L468.7 147.4 L471 147.4 L472 147.4 L474 147.4 L475 147.4 L476.6 147.4 L477.6 147.8 L480.1 147.8 L481.1 147.8 L484.4 147.8 L485.4 147.4 L490.9 147.4 L491.9 147.4 L497.3 147.4 L498.3 147.4 L502.5 147.4 L503.5 147.4 L505.8 147.4 L506.8 147.8 L511.6 147.8 L512.6 147.4 L516.4 147.4 L517.4 146.9 L520.2 146.9 L521.2 147.4 L523.6 147.4 L524.6 147.4 L528.4 147.4 L529.4 147.4 L531.4 147.4 L532.4 147.4 L535.2 147.4 L536.2 147.8 L537.8 147.8 L538.8 146.9 L540.8 146.9 L541.8 147.8 L546 147.8 L547 147.4 L550.6 147.4 L551.6 147.8 L555.5 147.8 L556.5 147.8 L559.4 147.8 L560.4 146.9 L563.9 146.9 L564.9 147.4 L570.1 147.4 L571.1 147.4 L574.8 147.4 L575.8 146.9 L579.3 146.8 L580.3 147.3 L586 147.3 L587 147.7 L591.1 147.7 L592.1 146.8 L596.7 146.8 L597.7 147.7 L601.2 147.7 L602.2 147.7 L608 147.7 L609 146.8 L610.6 146.8 L611.6 147.7 L614.7 147.7 L615.7 147.3 L618.4 147.3 L619.4 147.3 L623.3 147.3 L624.3 147.7 L628.6 147.7 L629.6 147.3 L634.7 147.3 L635.7 147.3 L638.9 147.3 L639.9 147.3 L642.3 147.3 L643.3 146.8 L649.2 146.8 L650.2 146.8 L654 146.8 L655 147.3 L660.7 147.3 L661.7 147.3 L667.7 147.3 L668.7 147.3 L670.3 147.3 L671.3 147.3 L676.3 147.3 L677.3 146.8 L679.9 146.8 L680.9 147.3 L683.5 147.3 L684.5 147.3 L687 147.3 L688 147.3 L690.8 147.3 L691.8 146.8 L693.4 146.8 L694.4 147.3 L699.3 147.3 L700.3 147.3 L704.1 147.3 L705.1 147.7 L708.2 147.7 L709.2 147.7 L711.8 147.7 L712.8 147.3 L716.8 147.3 L717.8 146.8 L721.5 146.8 L722.5 147.7 L724.1 147.7 L725.1 147.3 L728.7 147.3 L729.7 147.3 L731.6 147.3 L732.6 147.3 L734.7 147.3 L735.7 147.3 L740.3 147.3 L741.3 147.7 L743.8 147.7 L744.8 146.8 L748.3 146.8 L749.3 147.3 L754.8 147.3 L755.8 147.3 L760.9 147.3 L761.9 146.8 L766.5 146.8 L767.5 147.3 L770.9 147.3 L771.9 147.3 L775.4 147.3 L776.4 147.3 L778.6 147.3 L779.6 147.3 L781.8 147.3 L782.8 147.3 L788.7 147.3 L789.7 146.8 L795.6 146.8 L796.6 146.8 L801.1 146.8 L802.1 146.8 L806.8 146.8 L807.8 147.3 L811.1 147.3 L812.1 147.3 L817.9 147.3 L818.9 147.3 L824.6 147.3 L825.6 146.8 L827.4 146.8 L828.4 147.3 L833.6 147.3 L834.6 147.3 L838 147.3 L839 147.3 L844.4 147.3 L845.4 147.3 L847.3 147.3 L848.3 147.7 L850 147.7 L851 147.3 L856.4 147.3 L857.4 147.7 L859 147.7 L860 147.7 L863.6 147.7 L864.6 147.3 L869.3 147.3 L870.3 147.3 L873.1 147.3 L874.1 146.8 L876.8 146.8 L877.8 147.3 L882.2 147.3 L883.2 147.3 L887.1 147.3 L888.1 147.3 L892.9 147.3 L893.9 147.3 L899.6 147.3 L900.6 147.7 L905.9 147.6 L906.9 147.2 L910.1 147.2 L911.1 147.2 L914.2 147.2 L915.2 147.2 L916.8 147.2 L917.8 146.7 L920.6 146.7 L921.6 147.2 L926.7 147.2 L927.7 146.7 L933.6 146.7 L934.6 147.6 L938.7 147.6 L939.7 147.2 L941.3 147.2 L942.3 147.2 L948.3 147.2 L949.3 146.7 L953.4 146.7 L954.4 147.6 L957.8 147.6 L958.8 147.2 L964.7 147.2 L965.7 147.6 L968.9 147.6 L969.9 146.7 L972.5 146.7 L973.5 147.2 L979.4 147.2 L980.4 147.2 L985.6 147.2 L986.6 147.2 L989.2 147.2 L990.2 147.2 L992.9 147.2 L993.9 146.7 L997.4 146.7 L998.4 147.2 L1000.1 147.2 L1001.1 146.7 L1005.7 146.7 L1006.7 147.6 L1011.1 147.6 L1012.1 147.2 L1015.6 147.2 L1016.6 147.2 L1021 147.2 L1022 147.6 L1026.7 147.6 L1027.7 147.6 L1032.3 147.6 L1033.3 147.2 L1035.3 147.2 L1036.3 147.2 L1039.9 147.2 L1040.9 146.7 L1043.9 146.7 L1044.9 147.2 L1050.1 147.2 L1051.1 146.7 L1052.9 146.7 L1053.9 147.2 L1058.2 147.2 L1059.2 147.2 L1064.8 147.2 L1069.2 147.2" fill="none" stroke="#ff8000" stroke-width="9.8" stroke-linejoin="round" stroke-linecap="round"/>
<path d="M1069.2 147.2C1070.47 161.13 1071.92 175.05 1073 189C1074.78 212.06 1075.29 235.22 1076.8 258.3C1077.93 275.54 1079.5 292.76 1080.6 310C1081.34 321.66 1081.83 333.34 1082.6 345C1083.15 353.34 1083.76 361.67 1084.4 370C1085.2 380.41 1085.87 390.83 1087 401.2C1088.14 411.63 1089.12 422.13 1091.2 432.4C1092.62 439.39 1094.17 446.42 1096.4 453.2C1097.91 457.77 1099.44 462.4 1101.6 466.7C1102.86 469.2 1103.81 472.09 1105.8 474C1106.71 474.88 1107.87 476.3 1108.9 476.3C1109.93 476.3 1111.17 474.9 1112 474C1114.27 471.53 1113.55 467.09 1114.1 463.6C1114.92 458.45 1115.08 453.2 1115.6 448C1116.12 442.8 1116.67 437.6 1117.2 432.4C1117.73 427.2 1118.14 421.98 1118.8 416.8C1119.37 412.29 1119.81 407.73 1120.8 403.3C1121.5 400.13 1121.95 396.77 1123.4 393.9C1124.24 392.24 1125.47 390.77 1126.5 389.2C1127.73 390.77 1129.16 392.22 1130.2 393.9C1131.95 396.72 1132.68 400.14 1133.8 403.3C1135.37 407.74 1136.45 412.35 1138 416.8C1139.58 421.35 1141.39 425.83 1143.2 430.3C1145.18 435.2 1147.06 440.16 1149.4 444.9C1151.32 448.79 1153.19 452.78 1155.7 456.3C1157.55 458.89 1159.5 461.55 1161.9 463.6C1163.76 465.19 1165.83 466.84 1168.1 467.7C1170.05 468.44 1172.29 468.53 1174.4 468.8C1176.45 469.06 1178.58 468.91 1180.6 469.3C1183.86 469.93 1186.88 471.67 1190 472.9C1193.48 474.27 1196.87 475.87 1200.4 477.1C1203.81 478.29 1207.29 479.33 1210.8 480.2C1214.23 481.05 1217.77 481.45 1221.2 482.3C1224.71 483.17 1228.07 484.66 1231.6 485.4C1233.97 485.9 1236.45 486.73 1238.8 486.5C1240.94 486.29 1243.03 485.17 1245.1 484.4C1246.85 483.75 1248.5 482.54 1250.3 482.3C1251.98 482.07 1253.98 482.15 1255.5 482.8C1257.11 483.49 1258.59 485.05 1259.6 486.5C1261.16 488.75 1261.09 492.01 1261.7 494.8C1262.6 498.92 1263.14 503.13 1263.8 507.3C1264.36 510.86 1264.99 514.42 1265.4 518C1265.93 522.61 1264.16 527.99 1266.4 531.9C1267.09 533.1 1268.13 534.17 1269 535.3L1272.5 527.6C1273.67 528.4 1275.02 529.08 1276 530C1280.05 533.8 1277.78 541.59 1278.5 547.4C1279.21 553.15 1279.79 558.93 1280.3 564.7C1281.05 573.12 1281.49 581.56 1282 590C1283.14 608.78 1283.81 627.6 1284.6 646.4C1285.57 669.46 1286.17 692.54 1287.2 715.6C1287.97 732.87 1288.99 750.13 1289.8 767.4C1290.4 780.27 1291 793.13 1291.5 806C1291.83 814.63 1292.05 823.27 1292.4 831.9C1292.87 843.4 1293.17 854.93 1294.1 866.4C1294.67 873.34 1295.5 880.27 1296.2 887.2C1296.93 880.27 1297.84 873.35 1298.4 866.4C1299.33 854.93 1299.4 843.4 1299.8 831.9C1300.1 823.27 1300.35 814.63 1300.6 806C1301.13 787.4 1301.38 768.8 1301.9 750.2C1302.39 732.9 1303.03 715.6 1303.6 698.3C1304.17 681 1304.53 663.69 1305.3 646.4C1305.81 634.9 1306.34 623.39 1307.1 611.9C1307.6 604.4 1306.65 596.53 1308.8 589.4C1309.69 586.44 1311.13 583.6 1312.3 580.7C1313.73 583.6 1315.32 586.44 1316.6 589.4C1318.3 593.32 1318.79 597.82 1320.9 601.5C1322.11 603.62 1323.77 605.5 1325.2 607.5C1326.63 605.5 1328.36 603.62 1329.5 601.5C1332.74 595.49 1331.31 587.64 1332.1 580.7C1332.88 573.81 1333.63 566.91 1334.2 560C1334.75 553.34 1334.96 546.66 1335.5 540C1336 533.83 1335.83 527.47 1337.3 521.5C1338.32 517.37 1338.94 512.47 1341.6 509.4C1343.54 507.16 1346.6 505.48 1349.4 504.2C1352.6 502.74 1356.3 502.32 1359.8 501.6C1361.23 501.31 1362.9 500.54 1364.1 500.8C1366.33 501.28 1367.25 505.28 1368.4 507.7C1370.42 511.94 1369.97 517.21 1371.9 521.5C1372.85 523.61 1374.17 525.57 1375.3 527.6C1376.77 525 1378.46 522.5 1379.7 519.8C1381.72 515.42 1381.78 510.16 1384 505.9C1385.41 503.18 1386.82 499.94 1389.2 498.2C1391.09 496.82 1393.74 496.03 1396.1 495.6C1399.44 494.99 1403.04 496.49 1406.5 496.4C1409.07 496.33 1411.87 494.97 1414.2 495.6C1416.45 496.2 1418.15 498.69 1420.3 499.9C1422.98 501.41 1426.17 501.96 1428.9 503.4C1430.66 504.32 1432.71 505.2 1434 506.5C1437.28 509.79 1435.51 516.49 1436 521.5C1436.84 530.09 1436.64 538.77 1437 547.4C1437.31 554.93 1437.63 562.47 1438 570C1438.55 581.07 1439.08 592.15 1439.9 603.2C1440.62 613.01 1440.77 622.93 1442.5 632.6C1443 635.38 1443.63 638.13 1444.2 640.9C1445.37 634.1 1446.65 627.32 1447.7 620.5C1449.02 611.9 1450 603.24 1451.1 594.6C1451.99 587.67 1451.29 580.26 1453.7 573.8C1454.81 570.83 1456.42 567.99 1458 565.2C1459.1 563.26 1460.45 561.46 1461.5 559.5C1463.81 555.18 1465.01 550.32 1466.7 545.7C1468.17 541.68 1467.69 535.82 1471 533.6C1472.19 532.8 1474 531.83 1475.3 531.9C1477.35 532.01 1478.82 535.25 1480.5 537C1482.9 539.5 1485.7 541.86 1487.4 544.8C1489.34 548.13 1489.78 552.32 1490.9 556.1C1492.42 561.24 1493.6 566.48 1495.2 571.6C1496.08 574.42 1497.06 577.2 1498 580C1499.06 583.14 1498.96 587.22 1501.2 589.4C1502.35 590.52 1504.24 591.91 1505.6 592C1507.89 592.15 1509.39 587.67 1511.6 585.9C1514.21 583.8 1517.34 582.32 1520.3 580.7C1523.66 578.86 1527 576.85 1530.6 575.6C1532.83 574.83 1535.19 573.97 1537.5 573.8C1540.94 573.55 1544.42 575.27 1547.9 575.9C1550.76 576.42 1554.46 575.71 1556.5 577.3C1558.32 578.71 1559.12 581.82 1560 584.2C1562.18 590.06 1560.99 596.86 1561.4 603.2C1562.15 614.72 1562.52 626.27 1563.1 637.8C1563.68 649.33 1564.32 660.87 1564.9 672.4C1565.48 683.9 1566.03 695.4 1566.6 706.9C1567.17 718.43 1567.75 729.97 1568.3 741.5C1568.71 750.13 1568.98 758.77 1569.5 767.4C1569.85 773.17 1570.3 778.93 1570.7 784.7C1571.73 778.93 1573.02 773.2 1573.8 767.4C1574.95 758.84 1574.27 750.04 1575.6 741.5C1576.28 737.14 1577.33 732.83 1578.2 728.5C1579.07 732.83 1580.15 737.14 1580.8 741.5C1582.07 750.03 1581.72 758.76 1582.1 767.4C1582.66 780.26 1582.59 793.15 1583.4 806C1583.58 808.87 1583.81 811.73 1584 814.6C1585.12 831.84 1585.15 849.14 1585.9 866.4C1586.65 883.71 1587.37 901.02 1588.5 918.3C1589.25 929.84 1590.07 941.38 1591.1 952.9C1591.79 960.61 1591.77 968.46 1593.4 976C1594.17 979.57 1595.33 983.07 1596.3 986.6C1599.77 986.4 1603.23 986.1 1606.7 986C1613.59 985.8 1620.5 986.47 1627.4 986.6C1638.93 986.81 1650.48 987.06 1662 986.6C1670.64 986.26 1679.28 985.58 1687.9 984.8C1696.58 984.02 1705.2 981.99 1713.9 981.9C1717.33 981.86 1721.07 981.13 1724.2 982.2C1726.69 983.05 1728.5 986.16 1731.1 986.6C1732.21 986.79 1733.58 986.91 1734.6 986.6C1736.57 986.01 1737.09 982.66 1738.9 981.4C1739.94 980.68 1741.3 979.7 1742.4 979.7C1743.96 979.7 1745.08 982.39 1746.7 983.1C1748.26 983.79 1750.17 983.99 1751.9 984C1754.11 984.01 1756.55 983.58 1758.5 982.6C1760.32 981.68 1761.7 979.87 1763.3 978.5C1763.83 969.97 1764.43 961.44 1764.9 952.9C1765.6 940.27 1766.17 927.64 1766.6 915C1767.15 898.81 1767.17 882.6 1767.6 866.4C1768.01 850.93 1768.58 835.47 1769.1 820C1769.55 806.67 1769.83 793.32 1770.5 780C1770.71 775.8 1770.99 771.6 1771.2 767.4C1772.04 750.15 1771.92 732.87 1772.3 715.6C1772.68 698.3 1773.17 681 1773.5 663.7C1773.83 646.43 1773.8 629.16 1774.3 611.9C1774.61 601.26 1774.85 590.62 1775.5 580C1775.99 572.02 1776.76 564.07 1777.4 556.1C1778.09 547.47 1778.31 538.76 1779.5 530.2C1780.72 521.46 1782.96 512.86 1784.7 504.2C1785.86 498.43 1787.27 492.7 1788.2 486.9C1789.58 478.34 1789.84 469.62 1790.8 461C1791.57 454.09 1792.36 447.19 1793.3 440.3C1794.09 434.52 1793.81 428.37 1795.9 423C1796.83 420.62 1797.33 417.27 1799.4 416.1C1800.37 415.55 1801.89 415.08 1802.9 415.2C1804.97 415.45 1805.75 419.21 1807.2 421.2C1808.91 423.55 1810.67 425.87 1812.4 428.2C1814.1 425.87 1816.02 423.66 1817.5 421.2C1819.75 417.46 1820.97 413.13 1822.7 409.1C1824.43 405.07 1825.48 400.6 1827.9 397C1829.6 394.49 1831.41 391.32 1834 390.1C1836.18 389.07 1839.42 390.22 1841.7 389.3C1844.44 388.2 1846.35 385.21 1848.7 383.2C1850.39 381.76 1852.09 378.92 1853.8 378.9C1855.53 378.88 1857.22 381.82 1859 383.2C1860.69 384.52 1862.47 385.73 1864.2 387C1865.63 384.6 1867.42 382.31 1868.5 379.8C1871.07 373.84 1869.73 366.6 1870.3 360C1871.24 349.14 1872.19 338.28 1872.9 327.4C1873.65 315.91 1874.03 304.4 1874.6 292.9C1875.17 281.37 1875.73 269.83 1876.3 258.3C1876.87 246.77 1877.3 235.23 1878 223.7C1878.52 215.06 1879.17 206.43 1879.8 197.8C1880.35 190.3 1880.78 182.79 1881.5 175.3C1882 170.13 1882.29 164.91 1883.2 159.8C1883.88 156 1883.52 151.48 1885.8 148.5C1886.52 147.55 1887.53 146.77 1888.4 145.9C1889.27 147.63 1890.32 149.31 1891 151.1C1892.63 155.38 1891.45 160.47 1892.7 164.9C1893.37 167.28 1893.93 169.89 1895.3 171.9C1896.43 173.55 1898.58 174.58 1899.7 176.2C1902.1 179.66 1901.48 184.78 1902.2 189.1C1903.35 195.99 1903.96 202.96 1904.8 209.9C1905.7 217.4 1906.45 224.91 1907.4 232.4C1908.21 238.74 1909.13 245.07 1910 251.4C1910.87 257.73 1911.71 264.07 1912.6 270.4C1913.29 275.3 1914 280.2 1914.7 285.1" fill="none" stroke="#ff8000" stroke-width="9" stroke-linejoin="round" stroke-linecap="round"/>
</g>
<rect x="215" y="49.5" width="2.8" height="1075.4" fill="#008000"/>
<rect x="216.4" y="49.4" width="13.5" height="3.2" fill="#008000"/>
<rect x="216.4" y="202.6" width="13.5" height="3.2" fill="#008000"/>
<rect x="216.4" y="355.8" width="13.5" height="3.2" fill="#008000"/>
<rect x="216.4" y="509" width="13.5" height="3.2" fill="#008000"/>
<rect x="216.4" y="662.2" width="13.5" height="3.2" fill="#008000"/>
<rect x="216.4" y="815.4" width="13.5" height="3.2" fill="#008000"/>
<rect x="216.4" y="968.6" width="13.5" height="3.2" fill="#008000"/>
<rect x="216.4" y="1121.8" width="13.5" height="3.2" fill="#008000"/>
<rect x="216.4" y="126.1" width="7.5" height="3" fill="#008000"/>
<rect x="216.4" y="279.3" width="7.5" height="3" fill="#008000"/>
<rect x="216.4" y="432.5" width="7.5" height="3" fill="#008000"/>
<rect x="216.4" y="585.7" width="7.5" height="3" fill="#008000"/>
<rect x="216.4" y="738.9" width="7.5" height="3" fill="#008000"/>
<rect x="216.4" y="892.1" width="7.5" height="3" fill="#008000"/>
<rect x="216.4" y="1045.3" width="7.5" height="3" fill="#008000"/>
<rect x="413.5" y="49.4" width="3.9" height="1075.6" fill="#0000ff"/>
<rect x="415" y="49.3" width="13.7" height="3.4" fill="#0000ff"/>
<rect x="415" y="214.3" width="13.7" height="3.4" fill="#0000ff"/>
<rect x="415" y="379.3" width="13.7" height="3.4" fill="#0000ff"/>
<rect x="415" y="544.3" width="13.7" height="3.4" fill="#0000ff"/>
<rect x="415" y="709.3" width="13.7" height="3.4" fill="#0000ff"/>
<rect x="415" y="874.3" width="13.7" height="3.4" fill="#0000ff"/>
<rect x="415" y="1039.3" width="13.7" height="3.4" fill="#0000ff"/>
<rect x="415" y="131.9" width="7.8" height="3.2" fill="#0000ff"/>
<rect x="415" y="296.9" width="7.8" height="3.2" fill="#0000ff"/>
<rect x="415" y="461.9" width="7.8" height="3.2" fill="#0000ff"/>
<rect x="415" y="626.9" width="7.8" height="3.2" fill="#0000ff"/>
<rect x="415" y="791.9" width="7.8" height="3.2" fill="#0000ff"/>
<rect x="415" y="956.9" width="7.8" height="3.2" fill="#0000ff"/>
<rect x="415" y="1121.9" width="7.8" height="3.2" fill="#0000ff"/>
<rect x="1940" y="49.4" width="3.2" height="1075.6" fill="#ff00ff"/>
<rect x="1927.3" y="49.3" width="14.3" height="3.4" fill="#ff00ff"/>
<rect x="1927.3" y="168.5" width="14.3" height="3.4" fill="#ff00ff"/>
<rect x="1927.3" y="287.6" width="14.3" height="3.4" fill="#ff00ff"/>
<rect x="1927.3" y="406.8" width="14.3" height="3.4" fill="#ff00ff"/>
<rect x="1927.3" y="525.9" width="14.3" height="3.4" fill="#ff00ff"/>
<rect x="1927.3" y="645" width="14.3" height="3.4" fill="#ff00ff"/>
<rect x="1927.3" y="764.2" width="14.3" height="3.4" fill="#ff00ff"/>
<rect x="1927.3" y="883.4" width="14.3" height="3.4" fill="#ff00ff"/>
<rect x="1927.3" y="1002.5" width="14.3" height="3.4" fill="#ff00ff"/>
<rect x="1927.3" y="1121.7" width="14.3" height="3.4" fill="#ff00ff"/>
<rect x="1934.2" y="109" width="7.4" height="3.2" fill="#ff00ff"/>
<rect x="1934.2" y="228.1" width="7.4" height="3.2" fill="#ff00ff"/>
<rect x="1934.2" y="347.3" width="7.4" height="3.2" fill="#ff00ff"/>
<rect x="1934.2" y="466.4" width="7.4" height="3.2" fill="#ff00ff"/>
<rect x="1934.2" y="585.6" width="7.4" height="3.2" fill="#ff00ff"/>
<rect x="1934.2" y="704.7" width="7.4" height="3.2" fill="#ff00ff"/>
<rect x="1934.2" y="823.9" width="7.4" height="3.2" fill="#ff00ff"/>
<rect x="1934.2" y="943" width="7.4" height="3.2" fill="#ff00ff"/>
<rect x="1934.2" y="1062.2" width="7.4" height="3.2" fill="#ff00ff"/>
<rect x="2183.8" y="49.5" width="3.2" height="1075.4" fill="#ff8000"/>
<rect x="2171.5" y="137.8" width="13.9" height="3.2" fill="#ff8000"/>
<rect x="2171.5" y="316.6" width="13.9" height="3.2" fill="#ff8000"/>
<rect x="2171.5" y="495.4" width="13.9" height="3.2" fill="#ff8000"/>
<rect x="2171.5" y="674.2" width="13.9" height="3.2" fill="#ff8000"/>
<rect x="2171.5" y="853" width="13.9" height="3.2" fill="#ff8000"/>
<rect x="2171.5" y="1031.8" width="13.9" height="3.2" fill="#ff8000"/>
<rect x="2177.9" y="49.5" width="7.5" height="3" fill="#ff8000"/>
<rect x="2177.9" y="227.3" width="7.5" height="3" fill="#ff8000"/>
<rect x="2177.9" y="406.1" width="7.5" height="3" fill="#ff8000"/>
<rect x="2177.9" y="584.9" width="7.5" height="3" fill="#ff8000"/>
<rect x="2177.9" y="763.7" width="7.5" height="3" fill="#ff8000"/>
<rect x="2177.9" y="942.5" width="7.5" height="3" fill="#ff8000"/>
<rect x="2177.9" y="1121.3" width="7.5" height="3" fill="#ff8000"/>
<text x="202.6" y="64" fill="#008000" stroke="#008000" font-size="41.67" text-anchor="end">0.025</text>
<text x="202.6" y="217.2" fill="#008000" stroke="#008000" font-size="41.67" text-anchor="end">0.020</text>
<text x="202.6" y="370.4" fill="#008000" stroke="#008000" font-size="41.67" text-anchor="end">0.015</text>
<text x="202.6" y="523.6" fill="#008000" stroke="#008000" font-size="41.67" text-anchor="end">0.010</text>
<text x="202.6" y="676.8" fill="#008000" stroke="#008000" font-size="41.67" text-anchor="end">0.005</text>
<text x="202.6" y="830" fill="#008000" stroke="#008000" font-size="41.67" text-anchor="end">0.000</text>
<text x="202.6" y="983.2" fill="#008000" stroke="#008000" font-size="41.67" text-anchor="end">-0.005</text>
<text x="202.6" y="1136.4" fill="#008000" stroke="#008000" font-size="41.67" text-anchor="end">-0.010</text>
<text x="401" y="64" fill="#0000ff" stroke="#0000ff" font-size="41.67" text-anchor="end">0.06</text>
<text x="401" y="229" fill="#0000ff" stroke="#0000ff" font-size="41.67" text-anchor="end">0.04</text>
<text x="401" y="394" fill="#0000ff" stroke="#0000ff" font-size="41.67" text-anchor="end">0.02</text>
<text x="401" y="559" fill="#0000ff" stroke="#0000ff" font-size="41.67" text-anchor="end">0.00</text>
<text x="401" y="724" fill="#0000ff" stroke="#0000ff" font-size="41.67" text-anchor="end">-0.02</text>
<text x="401" y="889" fill="#0000ff" stroke="#0000ff" font-size="41.67" text-anchor="end">-0.04</text>
<text x="401" y="1054" fill="#0000ff" stroke="#0000ff" font-size="41.67" text-anchor="end">-0.06</text>
<text x="1955.2" y="64" fill="#ff00ff" stroke="#ff00ff" font-size="41.67" text-anchor="start" letter-spacing="0.3">0.002</text>
<text x="1955.2" y="183.2" fill="#ff00ff" stroke="#ff00ff" font-size="41.67" text-anchor="start" letter-spacing="0.3">0.000</text>
<text x="1954.4" y="302.3" fill="#ff00ff" stroke="#ff00ff" font-size="41.67" text-anchor="start" letter-spacing="0.3">-0.002</text>
<text x="1954.4" y="421.5" fill="#ff00ff" stroke="#ff00ff" font-size="41.67" text-anchor="start" letter-spacing="0.3">-0.004</text>
<text x="1954.4" y="540.6" fill="#ff00ff" stroke="#ff00ff" font-size="41.67" text-anchor="start" letter-spacing="0.3">-0.006</text>
<text x="1954.4" y="659.8" fill="#ff00ff" stroke="#ff00ff" font-size="41.67" text-anchor="start" letter-spacing="0.3">-0.008</text>
<text x="1954.4" y="778.9" fill="#ff00ff" stroke="#ff00ff" font-size="41.67" text-anchor="start" letter-spacing="0.3">-0.010</text>
<text x="1954.4" y="898.1" fill="#ff00ff" stroke="#ff00ff" font-size="41.67" text-anchor="start" letter-spacing="0.3">-0.012</text>
<text x="1954.4" y="1017.2" fill="#ff00ff" stroke="#ff00ff" font-size="41.67" text-anchor="start" letter-spacing="0.3">-0.014</text>
<text x="1954.4" y="1136.4" fill="#ff00ff" stroke="#ff00ff" font-size="41.67" text-anchor="start" letter-spacing="0.3">-0.016</text>
<text x="2200" y="153" fill="#ff8000" stroke="#ff8000" font-size="41.67" text-anchor="start">0</text>
<text x="2199.2" y="331.8" fill="#ff8000" stroke="#ff8000" font-size="41.67" text-anchor="start">-1</text>
<text x="2199.2" y="510.6" fill="#ff8000" stroke="#ff8000" font-size="41.67" text-anchor="start">-2</text>
<text x="2199.2" y="689.4" fill="#ff8000" stroke="#ff8000" font-size="41.67" text-anchor="start">-3</text>
<text x="2199.2" y="868.2" fill="#ff8000" stroke="#ff8000" font-size="41.67" text-anchor="start">-4</text>
<text x="2199.2" y="1047" fill="#ff8000" stroke="#ff8000" font-size="41.67" text-anchor="start">-5</text>
<text x="568.8" y="1184" fill="#000" stroke="#000" font-size="45.83" text-anchor="middle" letter-spacing="1.2">100</text>
<text x="877.6" y="1184" fill="#000" stroke="#000" font-size="45.83" text-anchor="middle" letter-spacing="1.2">200</text>
<text x="1184.7" y="1184" fill="#000" stroke="#000" font-size="45.83" text-anchor="middle" letter-spacing="1.2">300</text>
<text x="1490.2" y="1184" fill="#000" stroke="#000" font-size="45.83" text-anchor="middle" letter-spacing="1.2">400</text>
<text x="1796.2" y="1184" fill="#000" stroke="#000" font-size="45.83" text-anchor="middle" letter-spacing="1.2">500</text>
<text x="1187.5" y="1249.2" fill="#000" stroke="#000" font-size="45.83" text-anchor="middle">Time(μs)</text>
<text transform="translate(59.3 615) rotate(-90)" fill="#000" stroke="#000" font-size="41.67" text-anchor="middle" letter-spacing="0.16">Signal of Stress gauge (Volt)</text>
<text transform="translate(290.5 629) rotate(-90)" fill="#000" stroke="#000" font-size="41.67" text-anchor="middle" letter-spacing="0.1">Stress wave signals (Volt)</text>
<text transform="translate(2130.6 607.4) rotate(-90)" fill="#000" stroke="#000" font-size="41.67" text-anchor="middle" letter-spacing="0.17">Stress waves signal (Volt)</text>
<text transform="translate(2287 598.9) rotate(-90)" fill="#000" stroke="#000" font-size="41.67" text-anchor="middle" letter-spacing="0.07">Electrical Resistance(Ω)</text>
<line x1="439.7" y1="232.4" x2="534.6" y2="232.4" stroke="#0000ff" stroke-width="9.2" stroke-linecap="round"/>
<text x="546.2" y="247.2" fill="#000" stroke="#000" font-size="41.67" text-anchor="start" letter-spacing="0.29">Incident and Reflection Pulse</text>
<line x1="439.7" y1="284.1" x2="534.6" y2="284.1" stroke="#008000" stroke-width="9.2" stroke-linecap="round"/>
<text x="546.2" y="298.1" fill="#000" stroke="#000" font-size="41.67" text-anchor="start" letter-spacing="0.37">Strain Gauge Pulse</text>
<line x1="439.7" y1="335.8" x2="534.6" y2="335.8" stroke="#ff00ff" stroke-width="9.2" stroke-linecap="round"/>
<text x="546.2" y="349.8" fill="#000" stroke="#000" font-size="41.67" text-anchor="start" letter-spacing="0.36">Transmission Pulse</text>
<line x1="439.7" y1="387.5" x2="534.6" y2="387.5" stroke="#ff8000" stroke-width="9.2" stroke-linecap="round"/>
<text x="546.2" y="402.4" fill="#000" stroke="#000" font-size="41.67" text-anchor="start" letter-spacing="0.27">Electrical Resistance</text>
<text transform="translate(0 1373.5) scale(0.92 1)" fill="#000" stroke="none" font-family="'Liberation Serif', 'Times New Roman', serif" font-size="86"><tspan x="1213.3">(</tspan><tspan x="1243.3" dy="-0.6" font-size="87" font-weight="bold">a</tspan><tspan x="1287.6" dy="0.6">)</tspan></text>
</svg>
</body>
</html>
